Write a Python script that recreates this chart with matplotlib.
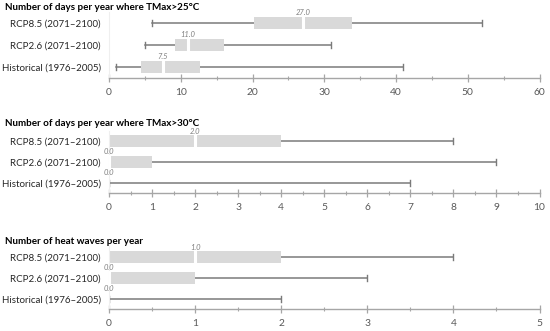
import numpy as np
import matplotlib
matplotlib.use("Agg")
import matplotlib.pyplot as plt
from matplotlib.ticker import MultipleLocator

plt.rcParams['font.family'] = ['Lato', 'DejaVu Sans']

categories = ["Historical (1976\u20132005)", "RCP2.6 (2071\u20132100)", "RCP8.5 (2071\u20132100)"]

titles = ["Number of days per year where TMax>25\u00b0C",
          "Number of days per year where TMax>30\u00b0C",
          "Number of heat waves per year"]

# order: Historical, RCP2.6, RCP8.5
t25_min = [1, 5, 6]
t25_q1 = [4.4, 9.2, 20.2]
t25_med = [7.5, 11.0, 27.0]
t25_q3 = [12.7, 16, 33.9]
t25_max = [41, 31, 52]

t30_min = [0, 0, 0]
t30_q1 = [0, 0, 0]
t30_med = [0.0, 0.0, 2.0]
t30_q3 = [0, 1, 4]
t30_max = [7, 9, 8]

hw_min = [0, 0, 0]
hw_q1 = [0, 0, 0]
hw_med = [0.0, 0.0, 1.0]
hw_q3 = [0, 1, 2]
hw_max = [2, 3, 4]

panels = [
    (t25_min, t25_q1, t25_med, t25_q3, t25_max, 60, 10, 5),
    (t30_min, t30_q1, t30_med, t30_q3, t30_max, 10, 1, 0.5),
    (hw_min, hw_q1, hw_med, hw_q3, hw_max, 5, 1, 0.5),
]

# axes pixel extents (top, bottom) in a 331 px tall figure
extents = [(12, 78), (130.5, 193), (246.5, 309)]
title_y = [7, 123, 241]

W, H = 550, 331
fig = plt.figure(figsize=(5.5, 3.31), dpi=100)

box_col = "#d9d9d9"
line_col = "#7a7a7a"
axis_col = "#a6a6a6"
text_col = "#595959"

for p, (mn, q1, med, q3, mx, xmax, major, minor) in enumerate(panels):
    top, bot = extents[p]
    left, right = 109, 539.5
    ax = fig.add_axes([left / W, 1 - bot / H, (right - left) / W, (bot - top) / H])
    y = np.arange(len(categories))
    for i in range(len(categories)):
        ax.plot([mn[i], mx[i]], [y[i], y[i]], color=line_col, lw=1.1, zorder=1)
        for e in (mn[i], mx[i]):
            ax.plot([e, e], [y[i] - 0.14, y[i] + 0.14], color=line_col, lw=1.0, zorder=1)
        if q3[i] > q1[i]:
            ax.barh(y[i], q3[i] - q1[i], left=q1[i], height=0.56, color=box_col, zorder=2)
            ax.plot([med[i], med[i]], [y[i] - 0.28, y[i] + 0.28], color="white", lw=2.2, zorder=3)
        ax.text(med[i], y[i] + 0.47, "%.1f" % med[i], ha="center", va="center",
                fontsize=5.5, style="italic", color="#7f7f7f")
    ax.set_xlim(0, xmax)
    ax.set_ylim(-0.5, 2.5)
    ax.set_yticks(y)
    ax.set_yticklabels(categories, fontsize=7.0, color="#262626")
    ax.tick_params(axis="y", length=0, pad=6)
    ax.xaxis.set_major_locator(MultipleLocator(major))
    ax.xaxis.set_minor_locator(MultipleLocator(minor))
    ax.tick_params(axis="x", which="major", direction="inout", length=6, width=0.9,
                   color=axis_col, labelsize=7.4, labelcolor=text_col, pad=4)
    ax.tick_params(axis="x", which="minor", direction="inout", length=3, width=0.8, color=axis_col)
    for s in ["top", "right"]:
        ax.spines[s].set_visible(False)
    ax.spines["bottom"].set_color(axis_col)
    ax.spines["bottom"].set_linewidth(1.0)
    ax.spines["left"].set_color("#efefef")
    ax.set_facecolor("none")
    fig.text(5 / W, 1 - title_y[p] / H, titles[p], fontsize=7.1, fontweight="bold",
             ha="left", va="center", color="#000000")

fig.savefig("out.png", dpi=100)
